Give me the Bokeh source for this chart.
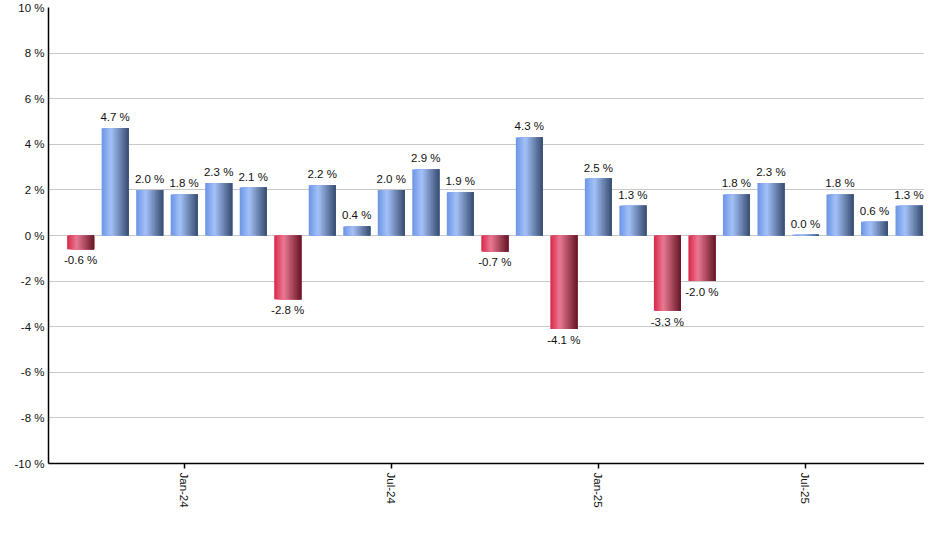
from bokeh.plotting import figure
from bokeh.models import ColumnDataSource, FixedTicker, Range1d, LabelSet
from bokeh.transform import dodge
from bokeh.core.properties import value
from bokeh.embed import file_html
from bokeh.resources import INLINE

# ---- data ----
months = ["Oct-23", "Nov-23", "Dec-23", "Jan-24", "Feb-24", "Mar-24", "Apr-24", "May-24",
          "Jun-24", "Jul-24", "Aug-24", "Sep-24", "Oct-24", "Nov-24", "Dec-24", "Jan-25",
          "Feb-25", "Mar-25", "Apr-25", "May-25", "Jun-25", "Jul-25", "Aug-25", "Sep-25",
          "Oct-25"]
returns = [-0.6, 4.7, 2.0, 1.8, 2.3, 2.1, -2.8, 2.2, 0.4, 2.0, 2.9, 1.9, -0.7, 4.3, -4.1,
           2.5, 1.3, -3.3, -2.0, 1.8, 2.3, 0.03, 1.8, 0.6, 1.3]
tick_months = ["Jan-24", "Jul-24", "Jan-25", "Jul-25"]
y_ticks = [-10, -8, -6, -4, -2, 0, 2, 4, 6, 8, 10]

FONT = "Liberation Sans"
xs = list(range(len(months)))

p = figure(width=924, height=510, output_backend="svg", toolbar_location=None,
           x_range=Range1d(-0.93, len(months) - 1 + 0.45), y_range=Range1d(-10, 10),
           min_border_left=48, min_border_right=0, min_border_top=7, min_border_bottom=0)
p.outline_line_color = None
p.background_fill_color = "white"
p.border_fill_color = "white"
p.xgrid.grid_line_color = None
p.ygrid.grid_line_color = "#c8c8c8"
p.ygrid.grid_line_width = 1

# gradient-like bars made of overlapping vertical strips
def lerp(c1, c2, t):
    return "#%02x%02x%02x" % tuple(int(round(a + (b - a) * t)) for a, b in zip(c1, c2))

pos_stops = [(0.0, (0x6c, 0x94, 0xe6)), (0.35, (0xa4, 0xc2, 0xf8)), (1.0, (0x38, 0x4c, 0x70))]
neg_stops = [(0.0, (0xd8, 0x26, 0x48)), (0.35, (0xea, 0x7a, 0x94)), (1.0, (0x66, 0x16, 0x26))]

def grad(stops, t):
    for (t0, c0), (t1, c1) in zip(stops[:-1], stops[1:]):
        if t <= t1:
            return lerp(c0, c1, (t - t0) / (t1 - t0))
    return lerp(stops[-1][1], stops[-1][1], 0)

bar_w = 0.78
N = 20
sw = bar_w / N
for k in range(N):
    t = (k + 0.5) / N
    left = -bar_w / 2 + sw * k
    w = bar_w / 2 - left
    off = left + w / 2
    src = ColumnDataSource(dict(
        x=xs, top=returns,
        c=[grad(pos_stops, t) if v >= 0 else grad(neg_stops, t) for v in returns]))
    p.vbar(x=dodge("x", off), width=w, top="top", bottom=0, source=src,
           fill_color="c", line_color=None)

# value labels (annotations, not clipped by the frame)
pos = ColumnDataSource(dict(x=[x for x, v in zip(xs, returns) if v >= 0],
                            y=[v for v in returns if v >= 0],
                            t=["%.1f %%" % v for v in returns if v >= 0]))
neg = ColumnDataSource(dict(x=[x for x, v in zip(xs, returns) if v < 0],
                            y=[v for v in returns if v < 0],
                            t=["%.1f %%" % v for v in returns if v < 0]))
p.add_layout(LabelSet(x="x", y="y", text="t", source=pos, text_align="center",
                      text_baseline="bottom", y_offset=5, text_font=value(FONT),
                      text_font_size=value("11.5px"), text_color=value("#111111")))
p.add_layout(LabelSet(x="x", y="y", text="t", source=neg, text_align="center",
                      text_baseline="top", y_offset=-5, text_font=value(FONT),
                      text_font_size=value("11.5px"), text_color=value("#111111")))

# axes
p.yaxis.ticker = FixedTicker(ticks=y_ticks)
p.yaxis.major_label_overrides = {t: "%d %%" % t for t in y_ticks}
p.yaxis.major_tick_out = 0
p.yaxis.major_tick_in = 0
p.yaxis.minor_tick_line_color = None
p.yaxis.major_label_standoff = 4
p.yaxis.axis_line_color = "black"
p.yaxis.axis_line_width = 1.5
p.yaxis.major_label_text_font = FONT
p.yaxis.major_label_text_font_size = "11.5px"
p.yaxis.major_label_text_color = "#111111"

tick_idx = [months.index(m) for m in tick_months]
p.xaxis.ticker = FixedTicker(ticks=tick_idx)
p.xaxis.major_label_overrides = {i: months[i] for i in tick_idx}
p.xaxis.major_label_orientation = "vertical"
p.xaxis.major_tick_out = 5
p.xaxis.major_tick_in = 0
p.xaxis.major_tick_line_color = "black"
p.xaxis.major_tick_line_width = 1.5
p.xaxis.minor_tick_line_color = None
p.xaxis.axis_line_color = "black"
p.xaxis.axis_line_width = 1.5
p.xaxis.major_label_standoff = 4
p.xaxis.major_label_text_font = FONT
p.xaxis.major_label_text_font_size = "11.5px"
p.xaxis.major_label_text_color = "#111111"

open("out.html", "w").write(file_html(p, INLINE))
